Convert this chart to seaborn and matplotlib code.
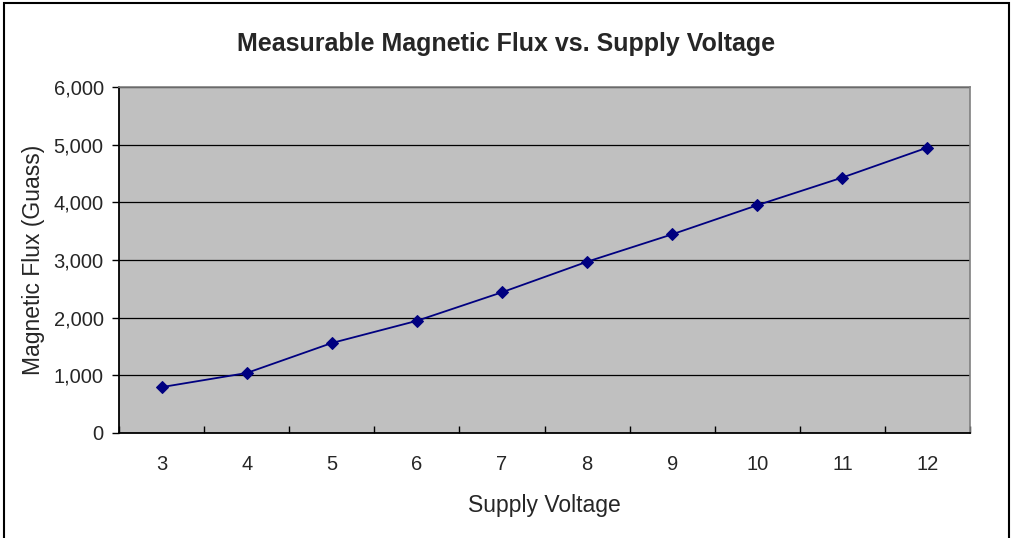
import numpy as np
import matplotlib
matplotlib.use('Agg')
import matplotlib.pyplot as plt
import pandas as pd
import seaborn as sns
from matplotlib.ticker import FuncFormatter, MultipleLocator
from matplotlib.patches import Rectangle

# data
voltage = [3, 4, 5, 6, 7, 8, 9, 10, 11, 12]
flux = [795, 1040, 1560, 1945, 2440, 2970, 3445, 3950, 4430, 4950]

df = pd.DataFrame({'Supply Voltage': voltage, 'Magnetic Flux': flux})

sns.set_style('white')
plt.rcParams['font.family'] = ['Liberation Sans', 'DejaVu Sans']

fig = plt.figure(figsize=(10.13, 5.38), dpi=100)
ax = fig.add_axes([0.1175, 0.1952, 0.8401, 0.6431])
ax.set_facecolor('#C0C0C0')

sns.lineplot(data=df, x='Supply Voltage', y='Magnetic Flux', ax=ax,
             color='#000080', linewidth=1.3, marker='D', markersize=6,
             markeredgecolor='#000080', zorder=3)

ax.set_xlim(2.5, 12.5)
ax.set_ylim(0, 6000)
ax.set_xticks(voltage)
ax.xaxis.set_minor_locator(MultipleLocator(1, offset=0.5))
ax.yaxis.set_major_locator(MultipleLocator(1000))
ax.yaxis.set_major_formatter(FuncFormatter(lambda v, p: f'{int(v):,}'))

ax.grid(axis='y', color='black', linewidth=0.9, zorder=1)
ax.set_axisbelow(True)

ax.tick_params(axis='x', which='major', length=0, labelsize=14.5, pad=16)
ax.tick_params(axis='x', which='minor', direction='in', length=5, width=1, color='black')
ax.tick_params(axis='y', which='major', direction='out', length=5, width=1,
               color='black', labelsize=14.5, pad=6)
ax.tick_params(left=True, bottom=True, which='both')
ax.tick_params(axis='x', which='major', bottom=False)

for s in ['left', 'bottom']:
    ax.spines[s].set_color('black')
    ax.spines[s].set_linewidth(1.3)
for s in ['top', 'right']:
    ax.spines[s].set_color('#808080')
    ax.spines[s].set_linewidth(1.2)

ax.set_xlabel('Supply Voltage', fontsize=16.5, labelpad=14)
ax.set_ylabel('Magnetic Flux (Guass)', fontsize=16.5, labelpad=6)
fig.suptitle('Measurable Magnetic Flux vs. Supply Voltage', fontsize=18,
             fontweight='bold', y=0.94)

# outer chart border
fig.patches.append(Rectangle((0.004, -0.01), 0.992, 1.004, transform=fig.transFigure,
                             fill=False, edgecolor='black', linewidth=1.5))

fig.savefig('out.png', dpi=100)
plt.close()
